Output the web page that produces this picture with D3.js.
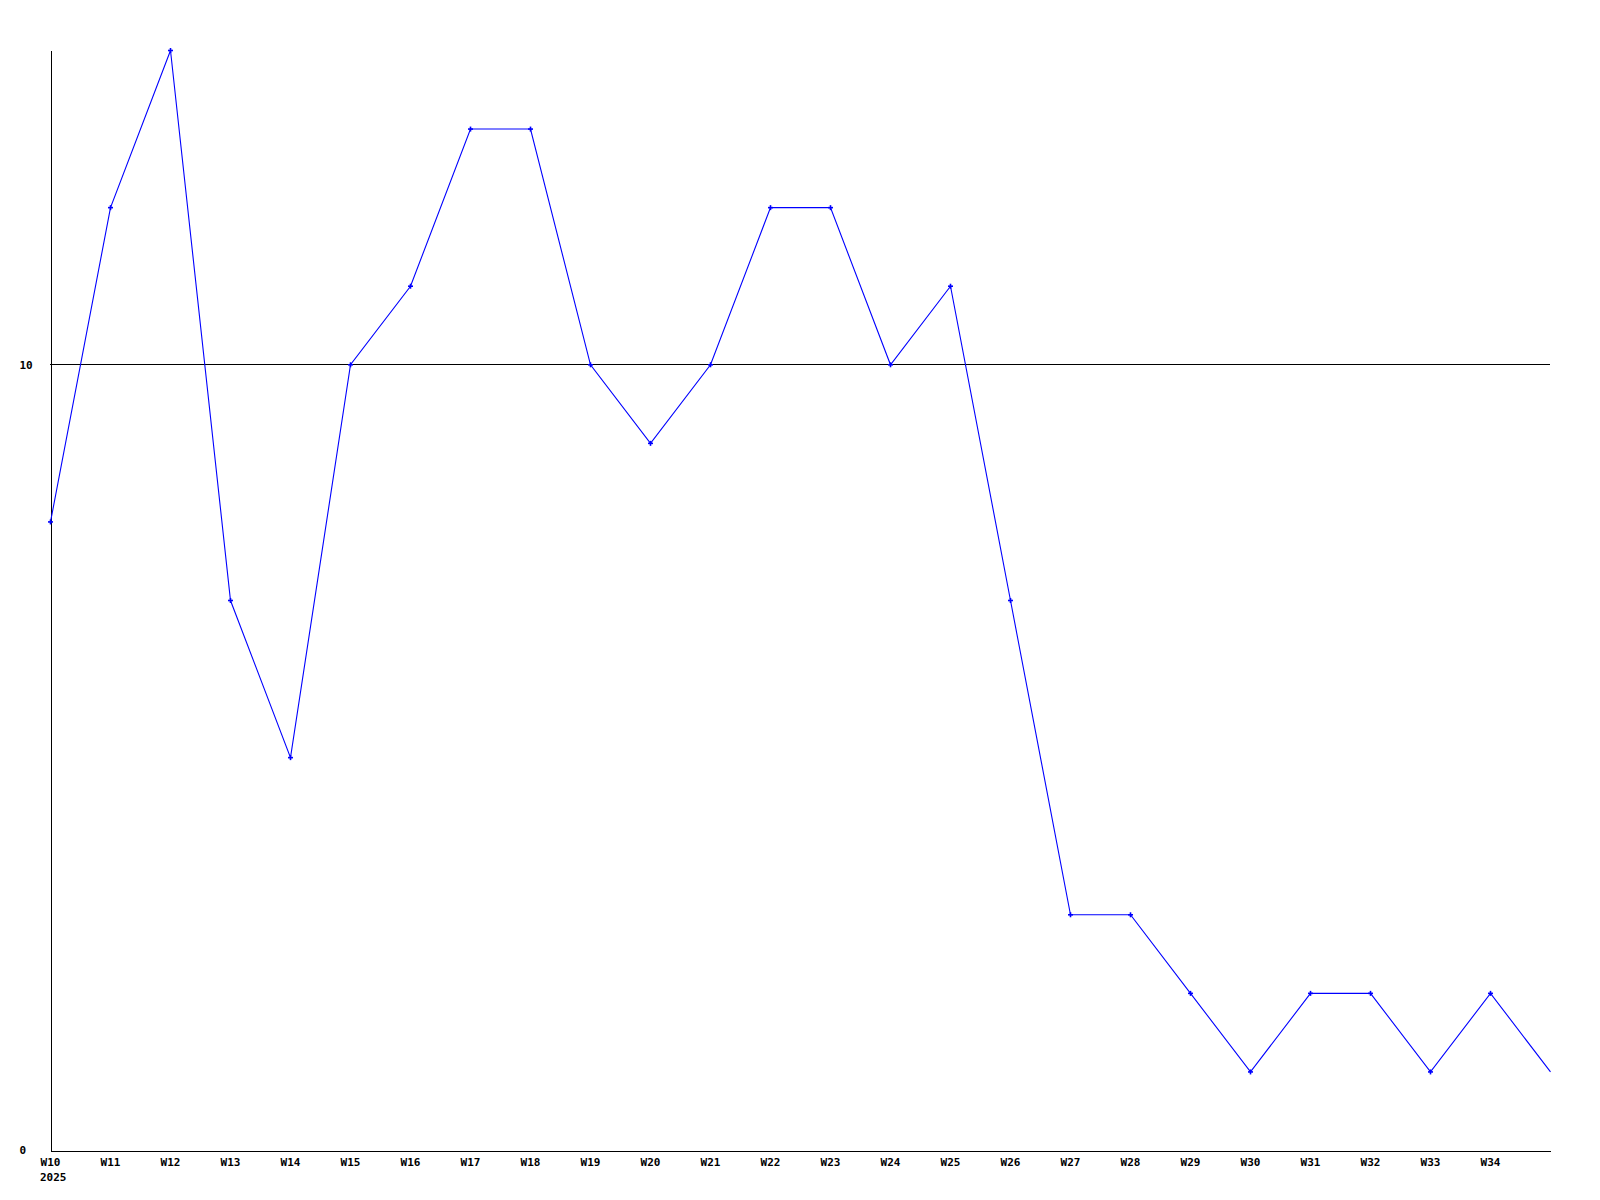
<!DOCTYPE html>
<html>
<head>
<meta charset="utf-8">
<script src="https://cdn.jsdelivr.net/npm/d3@7/dist/d3.min.js"></script>
<style>
  html, body { margin: 0; padding: 0; background: #fff; }
  svg { display: block; }
  text { font-family: "DejaVu Sans Mono", "Liberation Mono", monospace; font-weight: bold; font-size: 11px; fill: #000; }
</style>
</head>
<body>
<svg id="chart" width="1600" height="1200"></svg>
<script>
const weeks = ["W10","W11","W12","W13","W14","W15","W16","W17","W18","W19","W20","W21","W22","W23","W24","W25","W26","W27","W28","W29","W30","W31","W32","W33","W34","W35"];
const values = [8,12,14,7,5,10,11,13,13,10,9,10,12,12,10,11,7,3,3,2,1,2,2,1,2,1];
const xTickLabels = ["W10","W11","W12","W13","W14","W15","W16","W17","W18","W19","W20","W21","W22","W23","W24","W25","W26","W27","W28","W29","W30","W31","W32","W33","W34"];
const yTicks = [0, 10];
const yearLabel = "2025";
const yMax = 14;

(function () {
const svg = d3.select("#chart");
const mLeft = 50, mRight = 1550, mTop = 50, mBottom = 1150;

const x = d3.scalePoint().domain(weeks).range([mLeft, mRight]);
const y = d3.scaleLinear().domain([0, yMax]).range([mBottom, mTop]);

// gridline at 10
svg.append("g").selectAll("line").data(yTicks.filter(d => d > 0)).join("line")
  .attr("x1", mLeft).attr("x2", mRight)
  .attr("y1", d => y(d) + 0.5).attr("y2", d => y(d) + 0.5)
  .attr("stroke", "#000").attr("stroke-width", 1).attr("shape-rendering", "crispEdges");

// axes
const yAxis = d3.axisLeft(y).tickValues(yTicks).tickSize(0).tickSizeOuter(0).tickFormat(d3.format("d"));
const gy = svg.append("g").attr("transform", `translate(${mLeft + 0.5},0)`).call(yAxis);
gy.select(".domain").attr("stroke", "#000").attr("shape-rendering", "crispEdges");
gy.selectAll("text").attr("text-anchor", "start").attr("x", 19 - mLeft).attr("dy", "0.35em")
  .style("font-family", "\"DejaVu Sans Mono\", monospace").style("font-weight", "bold").style("font-size", "11px");

const xAxis = d3.axisBottom(x).tickValues(xTickLabels).tickSize(0).tickSizeOuter(0);
const gx = svg.append("g").attr("transform", `translate(0,${mBottom + 0.5})`).call(xAxis);
gx.select(".domain").attr("stroke", "#000").attr("shape-rendering", "crispEdges");
gx.selectAll("text").attr("y", 8).attr("dy", "0.71em")
  .style("font-family", "\"DejaVu Sans Mono\", monospace").style("font-weight", "bold").style("font-size", "11px");

svg.append("text").attr("x", x(weeks[0]) - 10).attr("y", mBottom + 31).text(yearLabel);

// line
const line = d3.line().x((d, i) => x(weeks[i]) + 0.5).y(d => y(d) + 0.5);
svg.append("path").datum(values).attr("d", line)
  .attr("fill", "none").attr("stroke", "#0000ff").attr("stroke-width", 1.1);

// plus markers (not on last point)
const marks = svg.append("g");
values.slice(0, values.length - 1).forEach((v, i) => {
  const cx = x(weeks[i]) + 0.5, cy = y(v) + 0.5;
  marks.append("line").attr("x1", cx - 2.5).attr("x2", cx + 2.5).attr("y1", cy).attr("y2", cy)
    .attr("stroke", "#0000ff").attr("stroke-width", 1.6);
  marks.append("line").attr("x1", cx).attr("x2", cx).attr("y1", cy - 2.5).attr("y2", cy + 2.5)
    .attr("stroke", "#0000ff").attr("stroke-width", 1.6);
});
})();
</script>
</body>
</html>
